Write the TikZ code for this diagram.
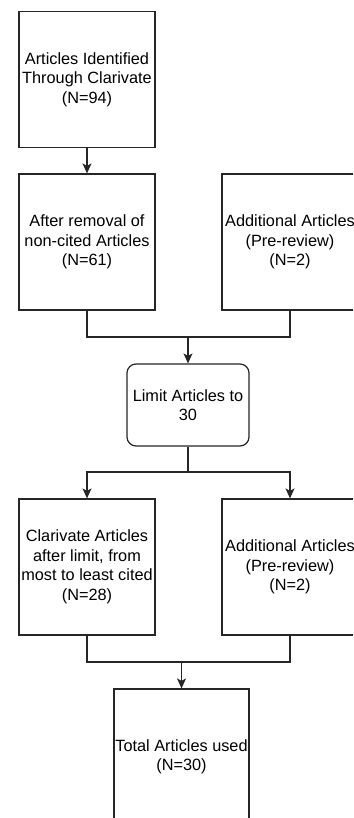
\documentclass[tikz,border=0pt]{standalone}
\usepackage{fontspec}
\setmainfont{Liberation Sans}
\usetikzlibrary{arrows.meta}
\begin{document}
\begin{tikzpicture}[x=1pt,y=-1pt,
  box/.style={draw=black!85, line width=1.2pt, minimum width=136pt, minimum height=136pt,
    inner sep=0pt, align=center, font=\fontsize{16.3}{19.5}\selectfont, fill=white},
  roundbox/.style={box, rounded corners=9pt, minimum width=122pt, minimum height=82pt},
  link/.style={draw=black!85, line width=1.2pt},
  arrow/.style={link, -{Stealth[length=10pt,width=9pt,inset=2.5pt]}}]
  \useasboundingbox (0,0) rectangle (353,818);
  \clip (0,0) rectangle (353,818);

  % first stage
  \node[box] (ident) at (87,79.5) {Articles Identified\\Through Clarivate\\(N=94)};
  \node[box] (removed) at (87,242) {After removal of\\non-cited Articles\\(N=61)};
  \node[box] (addA) at (290,242) {Additional Articles\\(Pre-review)\\(N=2)};
  \node[roundbox] (limit) at (188,405) {Limit Articles to\\30};

  % second stage
  \node[box] (clar) at (87,567) {Clarivate Articles\\after limit, from\\most to least cited\\(N=28)};
  \node[box] (addB) at (290,567) {Additional Articles\\(Pre-review)\\(N=2)};
  \node[box, minimum width=135pt] (total) at (181.5,757) {Total Articles used\\(N=30)};

  % junction points
  \coordinate (j1) at (188,337);
  \coordinate (j2) at (188,472);
  \coordinate (j3) at (181.5,662);

  \draw[arrow] (ident.south) -- (removed.north);
  \draw[link] (removed.south) |- (j1) -| (addA.south);
  \draw[arrow] (j1) -- (limit.north);
  \draw[link] (limit.south) -- (j2);
  \draw[arrow] (j2) -| (clar.north);
  \draw[arrow] (j2) -| (addB.north);
  \draw[link] (clar.south) |- (j3) -| (addB.south);
  \draw[arrow] (j3) -- (total.north);
\end{tikzpicture}
\end{document}
